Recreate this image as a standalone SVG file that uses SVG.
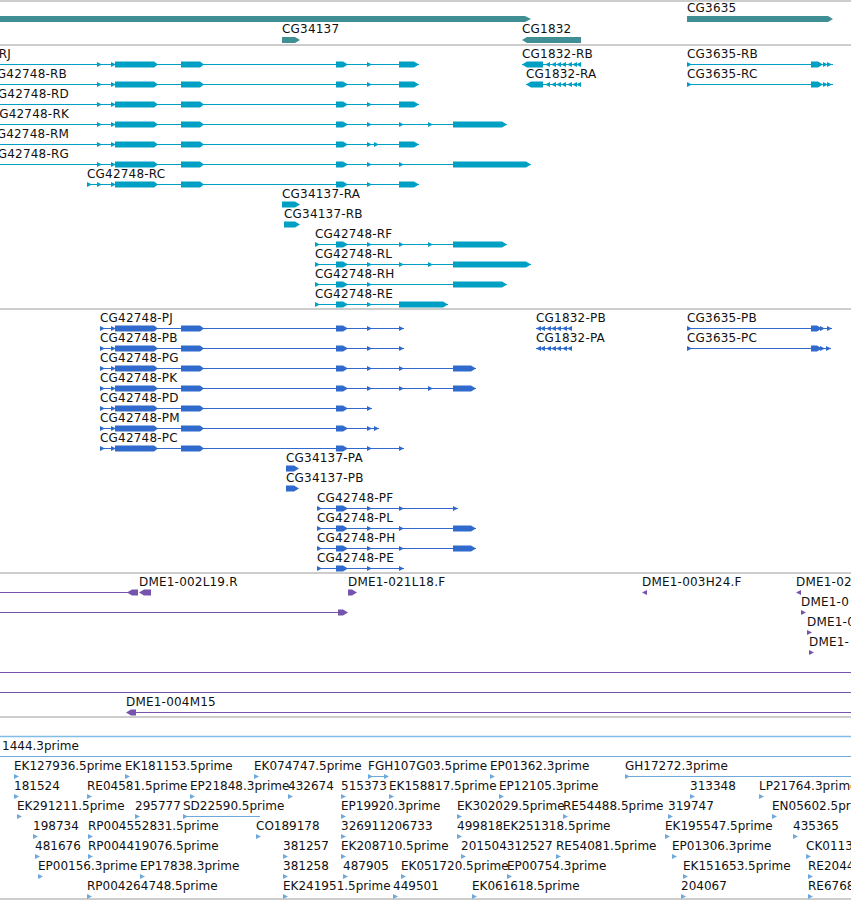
<svg xmlns="http://www.w3.org/2000/svg" xmlns:xlink="http://www.w3.org/1999/xlink" width="851" height="901" viewBox="0 0 851 901">
<style>
text{font-family:"DejaVu Sans","Liberation Sans",sans-serif;font-size:12px;fill:#111;letter-spacing:0.2px}
.es text{letter-spacing:0}
.div{stroke:#bdbdbd;stroke-width:1.5}
.gn{fill:#3f8f94}
.tx{fill:#00a0c4;stroke:none}
.tx line{stroke:#00a0c4;stroke-width:1}
.pr{fill:#2f6acc}
.pr line{stroke:#2f6acc;stroke-width:1}
.pu{fill:#7653ac}
.pu line{stroke:#7653ac;stroke-width:1}
.es{fill:#6fa9dc}
.es line{stroke:#6fa9dc;stroke-width:1}
</style>
<defs>
<path id="tr" d="M0,-2 L5,0.5 L0,3 Z"/>
<path id="tl" d="M5,-2 L0,0.5 L5,3 Z"/>
</defs>
<rect width="851" height="901" fill="#fff"/>
<g id="dividers">
<line class="div" x1="0" y1="1" x2="851" y2="1"/>
<line class="div" x1="0" y1="45" x2="851" y2="45"/>
<line class="div" x1="0" y1="309" x2="851" y2="309"/>
<line class="div" x1="0" y1="573" x2="851" y2="573"/>
<line class="div" x1="0" y1="717" x2="851" y2="717"/>
<line x1="0" y1="736.5" x2="851" y2="736.5" stroke="#7fbde6" stroke-width="1.5"/>
<line class="div" x1="0" y1="899" x2="851" y2="899"/>
</g>
<!-- genes -->
<g id="gene-CG42748" class="gn"><path d="M0,16H525L531,19L525,22H0Z"/></g>
<g id="gene-CG34137"><text x="282" y="33">CG34137</text><path class="gn" d="M282,37H295L300,40L295,43H282Z"/></g>
<g id="gene-CG1832"><text x="522" y="33">CG1832</text><path class="gn" d="M581,37H527L522,40L527,43H581Z"/></g>
<g id="gene-CG3635"><text x="687" y="12">CG3635</text><path class="gn" d="M687,16H828L833,19L828,22H687Z"/></g>
<!-- transcripts -->
<g id="CG42748-RJ" class="tx" transform="translate(0,64)"><text x="11" y="-6" text-anchor="end">CG42748-RJ</text><line x1="0" y1="0.5" x2="419" y2="0.5"/><use href="#tr" x="97"/><use href="#tr" x="111"/><path d="M115,-2.5H154L158,0.5L154,3.5H115Z"/><path d="M181,-2.5H200L204,0.5L200,3.5H181Z"/><path d="M336,-2.5H343L348,0.5L343,3.5H336Z"/><use href="#tr" x="367"/><path d="M399,-2.5H414L419,0.5L414,3.5H399Z"/></g>
<g id="CG42748-RB" class="tx" transform="translate(0,84)"><text x="67" y="-6" text-anchor="end">CG42748-RB</text><line x1="0" y1="0.5" x2="419" y2="0.5"/><use href="#tr" x="97"/><use href="#tr" x="111"/><path d="M115,-2.5H154L158,0.5L154,3.5H115Z"/><path d="M181,-2.5H200L204,0.5L200,3.5H181Z"/><path d="M336,-2.5H343L348,0.5L343,3.5H336Z"/><use href="#tr" x="367"/><path d="M399,-2.5H414L419,0.5L414,3.5H399Z"/></g>
<g id="CG42748-RD" class="tx" transform="translate(0,104)"><text x="69" y="-6" text-anchor="end">CG42748-RD</text><line x1="0" y1="0.5" x2="419" y2="0.5"/><use href="#tr" x="97"/><use href="#tr" x="111"/><path d="M115,-2.5H154L158,0.5L154,3.5H115Z"/><path d="M181,-2.5H200L204,0.5L200,3.5H181Z"/><path d="M336,-2.5H343L348,0.5L343,3.5H336Z"/><use href="#tr" x="367"/><path d="M399,-2.5H414L419,0.5L414,3.5H399Z"/></g>
<g id="CG42748-RK" class="tx" transform="translate(0,124)"><text x="69" y="-6" text-anchor="end">CG42748-RK</text><line x1="0" y1="0.5" x2="507" y2="0.5"/><use href="#tr" x="97"/><use href="#tr" x="111"/><path d="M115,-2.5H154L158,0.5L154,3.5H115Z"/><path d="M181,-2.5H200L204,0.5L200,3.5H181Z"/><path d="M336,-2.5H343L348,0.5L343,3.5H336Z"/><use href="#tr" x="367"/><use href="#tr" x="399"/><use href="#tr" x="428"/><path d="M453,-2.5H502L507,0.5L502,3.5H453Z"/></g>
<g id="CG42748-RM" class="tx" transform="translate(0,144)"><text x="69" y="-6" text-anchor="end">CG42748-RM</text><line x1="0" y1="0.5" x2="419" y2="0.5"/><use href="#tr" x="97"/><use href="#tr" x="111"/><path d="M115,-2.5H154L158,0.5L154,3.5H115Z"/><path d="M181,-2.5H200L204,0.5L200,3.5H181Z"/><path d="M336,-2.5H343L348,0.5L343,3.5H336Z"/><use href="#tr" x="367"/><use href="#tr" x="374"/><path d="M399,-2.5H414L419,0.5L414,3.5H399Z"/></g>
<g id="CG42748-RG" class="tx" transform="translate(0,164)"><text x="69" y="-6" text-anchor="end">CG42748-RG</text><line x1="0" y1="0.5" x2="531" y2="0.5"/><use href="#tr" x="97"/><use href="#tr" x="111"/><path d="M115,-2.5H154L158,0.5L154,3.5H115Z"/><path d="M181,-2.5H200L204,0.5L200,3.5H181Z"/><path d="M336,-2.5H343L348,0.5L343,3.5H336Z"/><use href="#tr" x="367"/><use href="#tr" x="399"/><path d="M453,-2.5H526L531,0.5L526,3.5H453Z"/></g>
<g id="CG42748-RC" class="tx" transform="translate(0,184)"><text x="87" y="-6">CG42748-RC</text><line x1="87" y1="0.5" x2="419" y2="0.5"/><use href="#tr" x="87"/><use href="#tr" x="97"/><use href="#tr" x="111"/><path d="M115,-2.5H154L158,0.5L154,3.5H115Z"/><path d="M181,-2.5H200L204,0.5L200,3.5H181Z"/><path d="M336,-2.5H343L348,0.5L343,3.5H336Z"/><use href="#tr" x="367"/><path d="M399,-2.5H414L419,0.5L414,3.5H399Z"/></g>
<g id="CG34137-RA" class="tx" transform="translate(0,204)"><text x="282" y="-6">CG34137-RA</text><path d="M282,-2.5H295L300,0.5L295,3.5H282Z"/></g>
<g id="CG34137-RB" class="tx" transform="translate(0,224)"><text x="284" y="-6">CG34137-RB</text><path d="M284,-2.5H295L300,0.5L295,3.5H284Z"/></g>
<g id="CG42748-RF" class="tx" transform="translate(0,244)"><text x="315" y="-6">CG42748-RF</text><line x1="315" y1="0.5" x2="507" y2="0.5"/><use href="#tr" x="315"/><path d="M336,-2.5H343L348,0.5L343,3.5H336Z"/><use href="#tr" x="367"/><use href="#tr" x="399"/><use href="#tr" x="428"/><path d="M453,-2.5H502L507,0.5L502,3.5H453Z"/></g>
<g id="CG42748-RL" class="tx" transform="translate(0,264)"><text x="315" y="-6">CG42748-RL</text><line x1="315" y1="0.5" x2="531" y2="0.5"/><use href="#tr" x="315"/><path d="M336,-2.5H343L348,0.5L343,3.5H336Z"/><use href="#tr" x="367"/><use href="#tr" x="399"/><use href="#tr" x="428"/><path d="M453,-2.5H526L531,0.5L526,3.5H453Z"/></g>
<g id="CG42748-RH" class="tx" transform="translate(0,284)"><text x="315" y="-6">CG42748-RH</text><line x1="315" y1="0.5" x2="507" y2="0.5"/><use href="#tr" x="315"/><path d="M336,-2.5H343L348,0.5L343,3.5H336Z"/><use href="#tr" x="367"/><path d="M453,-2.5H502L507,0.5L502,3.5H453Z"/></g>
<g id="CG42748-RE" class="tx" transform="translate(0,304)"><text x="315" y="-6">CG42748-RE</text><line x1="315" y1="0.5" x2="448" y2="0.5"/><use href="#tr" x="315"/><path d="M336,-2.5H343L348,0.5L343,3.5H336Z"/><use href="#tr" x="367"/><path d="M399,-2.5H443L448,0.5L443,3.5H399Z"/></g>
<g id="CG1832-RB" class="tx" transform="translate(0,64)"><text x="522" y="-6">CG1832-RB</text><line x1="522" y1="0.5" x2="581" y2="0.5"/><path d="M543,-2.5H527L522,0.5L527,3.5H543Z"/><use href="#tl" x="545"/><use href="#tl" x="551"/><use href="#tl" x="556"/><use href="#tl" x="561"/><use href="#tl" x="567"/><use href="#tl" x="572"/><use href="#tl" x="576"/></g>
<g id="CG1832-RA" class="tx" transform="translate(0,84)"><text x="526" y="-6">CG1832-RA</text><line x1="526" y1="0.5" x2="581" y2="0.5"/><path d="M543,-2.5H531L526,0.5L531,3.5H543Z"/><use href="#tl" x="545"/><use href="#tl" x="551"/><use href="#tl" x="556"/><use href="#tl" x="561"/><use href="#tl" x="567"/><use href="#tl" x="572"/><use href="#tl" x="576"/></g>
<g id="CG3635-RB" class="tx" transform="translate(0,64)"><text x="687" y="-6">CG3635-RB</text><line x1="687" y1="0.5" x2="833" y2="0.5"/><use href="#tr" x="687"/><path d="M811,-2.5H818L823,0.5L818,3.5H811Z"/><use href="#tr" x="827"/><use href="#tr" x="823"/></g>
<g id="CG3635-RC" class="tx" transform="translate(0,84)"><text x="687" y="-6">CG3635-RC</text><line x1="687" y1="0.5" x2="833" y2="0.5"/><use href="#tr" x="687"/><path d="M811,-2.5H818L823,0.5L818,3.5H811Z"/><use href="#tr" x="827"/><use href="#tr" x="823"/></g>
<!-- proteins -->
<g id="CG42748-PJ" class="pr" transform="translate(0,328)"><text x="100" y="-6">CG42748-PJ</text><line x1="100" y1="0.5" x2="404" y2="0.5"/><use href="#tr" x="100"/><use href="#tr" x="111"/><path d="M115,-2.5H154L158,0.5L154,3.5H115Z"/><path d="M181,-2.5H200L204,0.5L200,3.5H181Z"/><path d="M336,-2.5H343L348,0.5L343,3.5H336Z"/><use href="#tr" x="367"/><use href="#tr" x="399"/></g>
<g id="CG42748-PB" class="pr" transform="translate(0,348)"><text x="100" y="-6">CG42748-PB</text><line x1="100" y1="0.5" x2="404" y2="0.5"/><use href="#tr" x="100"/><use href="#tr" x="111"/><path d="M115,-2.5H154L158,0.5L154,3.5H115Z"/><path d="M181,-2.5H200L204,0.5L200,3.5H181Z"/><path d="M336,-2.5H343L348,0.5L343,3.5H336Z"/><use href="#tr" x="367"/><use href="#tr" x="399"/></g>
<g id="CG42748-PG" class="pr" transform="translate(0,368)"><text x="100" y="-6">CG42748-PG</text><line x1="100" y1="0.5" x2="476" y2="0.5"/><use href="#tr" x="100"/><use href="#tr" x="111"/><path d="M115,-2.5H154L158,0.5L154,3.5H115Z"/><path d="M181,-2.5H200L204,0.5L200,3.5H181Z"/><path d="M336,-2.5H343L348,0.5L343,3.5H336Z"/><use href="#tr" x="367"/><use href="#tr" x="399"/><path d="M453,-2.5H471L476,0.5L471,3.5H453Z"/></g>
<g id="CG42748-PK" class="pr" transform="translate(0,388)"><text x="100" y="-6">CG42748-PK</text><line x1="100" y1="0.5" x2="476" y2="0.5"/><use href="#tr" x="100"/><use href="#tr" x="111"/><path d="M115,-2.5H154L158,0.5L154,3.5H115Z"/><path d="M181,-2.5H200L204,0.5L200,3.5H181Z"/><path d="M336,-2.5H343L348,0.5L343,3.5H336Z"/><use href="#tr" x="367"/><use href="#tr" x="399"/><use href="#tr" x="428"/><path d="M453,-2.5H471L476,0.5L471,3.5H453Z"/></g>
<g id="CG42748-PD" class="pr" transform="translate(0,408)"><text x="100" y="-6">CG42748-PD</text><line x1="100" y1="0.5" x2="372" y2="0.5"/><use href="#tr" x="100"/><use href="#tr" x="111"/><path d="M115,-2.5H154L158,0.5L154,3.5H115Z"/><path d="M181,-2.5H200L204,0.5L200,3.5H181Z"/><path d="M336,-2.5H343L348,0.5L343,3.5H336Z"/><use href="#tr" x="367"/></g>
<g id="CG42748-PM" class="pr" transform="translate(0,428)"><text x="100" y="-6">CG42748-PM</text><line x1="100" y1="0.5" x2="379" y2="0.5"/><use href="#tr" x="100"/><use href="#tr" x="111"/><path d="M115,-2.5H154L158,0.5L154,3.5H115Z"/><path d="M181,-2.5H200L204,0.5L200,3.5H181Z"/><path d="M336,-2.5H343L348,0.5L343,3.5H336Z"/><use href="#tr" x="367"/><use href="#tr" x="374"/></g>
<g id="CG42748-PC" class="pr" transform="translate(0,448)"><text x="100" y="-6">CG42748-PC</text><line x1="100" y1="0.5" x2="404" y2="0.5"/><use href="#tr" x="100"/><use href="#tr" x="111"/><path d="M115,-2.5H154L158,0.5L154,3.5H115Z"/><path d="M181,-2.5H200L204,0.5L200,3.5H181Z"/><path d="M336,-2.5H343L348,0.5L343,3.5H336Z"/><use href="#tr" x="367"/><use href="#tr" x="399"/></g>
<g id="CG34137-PA" class="pr" transform="translate(0,468)"><text x="286" y="-6">CG34137-PA</text><path d="M286,-2.5H294L299,0.5L294,3.5H286Z"/></g>
<g id="CG34137-PB" class="pr" transform="translate(0,488)"><text x="286" y="-6">CG34137-PB</text><path d="M286,-2.5H294L299,0.5L294,3.5H286Z"/></g>
<g id="CG42748-PF" class="pr" transform="translate(0,508)"><text x="317" y="-6">CG42748-PF</text><line x1="317" y1="0.5" x2="458" y2="0.5"/><use href="#tr" x="317"/><path d="M336,-2.5H343L348,0.5L343,3.5H336Z"/><use href="#tr" x="367"/><use href="#tr" x="399"/><use href="#tr" x="453"/></g>
<g id="CG42748-PL" class="pr" transform="translate(0,528)"><text x="317" y="-6">CG42748-PL</text><line x1="317" y1="0.5" x2="476" y2="0.5"/><use href="#tr" x="317"/><path d="M336,-2.5H343L348,0.5L343,3.5H336Z"/><use href="#tr" x="367"/><use href="#tr" x="399"/><path d="M453,-2.5H471L476,0.5L471,3.5H453Z"/></g>
<g id="CG42748-PH" class="pr" transform="translate(0,548)"><text x="317" y="-6">CG42748-PH</text><line x1="317" y1="0.5" x2="476" y2="0.5"/><use href="#tr" x="317"/><path d="M336,-2.5H343L348,0.5L343,3.5H336Z"/><use href="#tr" x="367"/><use href="#tr" x="399"/><path d="M453,-2.5H471L476,0.5L471,3.5H453Z"/></g>
<g id="CG42748-PE" class="pr" transform="translate(0,568)"><text x="317" y="-6">CG42748-PE</text><line x1="317" y1="0.5" x2="404" y2="0.5"/><use href="#tr" x="317"/><path d="M336,-2.5H343L348,0.5L343,3.5H336Z"/><use href="#tr" x="367"/><use href="#tr" x="399"/></g>
<g id="CG1832-PB" class="pr" transform="translate(0,328)"><text x="536" y="-6">CG1832-PB</text><line x1="536" y1="0.5" x2="572" y2="0.5"/><use href="#tl" x="536"/><use href="#tl" x="540"/><use href="#tl" x="546"/><use href="#tl" x="551"/><use href="#tl" x="556"/><use href="#tl" x="562"/><use href="#tl" x="567"/></g>
<g id="CG1832-PA" class="pr" transform="translate(0,348)"><text x="536" y="-6">CG1832-PA</text><line x1="536" y1="0.5" x2="572" y2="0.5"/><use href="#tl" x="536"/><use href="#tl" x="540"/><use href="#tl" x="546"/><use href="#tl" x="551"/><use href="#tl" x="556"/><use href="#tl" x="562"/><use href="#tl" x="567"/></g>
<g id="CG3635-PB" class="pr" transform="translate(0,328)"><text x="687" y="-6">CG3635-PB</text><line x1="687" y1="0.5" x2="832" y2="0.5"/><use href="#tr" x="687"/><path d="M811,-2.5H817L822,0.5L817,3.5H811Z"/><use href="#tr" x="820"/><use href="#tr" x="827"/></g>
<g id="CG3635-PC" class="pr" transform="translate(0,348)"><text x="687" y="-6">CG3635-PC</text><line x1="687" y1="0.5" x2="831" y2="0.5"/><use href="#tr" x="687"/><path d="M811,-2.5H817L822,0.5L817,3.5H811Z"/><use href="#tr" x="820"/><use href="#tr" x="826"/></g>
<!-- clone ends -->
<g id="DME1-002L19.R" class="pu" transform="translate(0,592)"><text x="139" y="-6">DME1-002L19.R</text><line x1="0" y1="0.5" x2="130" y2="0.5"/><path d="M138,-2.5H132L127,0.5L132,3.5H138Z"/><path d="M151,-2.5H144L139,0.5L144,3.5H151Z"/></g>
<g id="clone-line-2" class="pu" transform="translate(0,612)"><line x1="0" y1="0.5" x2="340" y2="0.5"/><path d="M338,-2.5H343L348,0.5L343,3.5H338Z"/></g>
<g id="DME1-021L18.F" class="pu" transform="translate(0,592)"><text x="348" y="-6">DME1-021L18.F</text><path d="M348,-2.5H352L357,0.5L352,3.5H348Z"/></g>
<g id="DME1-003H24.F" class="pu" transform="translate(0,592)"><text x="642" y="-6">DME1-003H24.F</text><use href="#tl" x="642"/></g>
<g id="DME1-02" class="pu" transform="translate(0,592)"><text x="796" y="-6">DME1-02</text><use href="#tl" x="796"/></g>
<g id="DME1-0a" class="pu" transform="translate(0,612)"><text x="801" y="-6">DME1-0</text><use href="#tr" x="801"/></g>
<g id="DME1-0b" class="pu" transform="translate(0,632)"><text x="807" y="-6">DME1-0</text><use href="#tr" x="807"/></g>
<g id="DME1-c" class="pu" transform="translate(0,652)"><text x="809" y="-6">DME1-</text><use href="#tr" x="809"/></g>
<g id="clone-line-672" class="pu"><line x1="0" y1="672.5" x2="851" y2="672.5"/></g>
<g id="clone-line-692" class="pu"><line x1="0" y1="692.5" x2="851" y2="692.5"/></g>
<g id="DME1-004M15" class="pu" transform="translate(0,712)"><text x="126" y="-6">DME1-004M15</text><line x1="134" y1="0.5" x2="851" y2="0.5"/><path d="M136,-2.5H131L126,0.5L131,3.5H136Z"/></g>
<!-- ESTs -->
<g id="ests" class="es">
<g transform="translate(0,756)"><text x="2" y="-6">1444.3prime</text><line x1="0" y1="0.5" x2="851" y2="0.5"/></g>
<g transform="translate(0,776)"><text x="14" y="-6">EK127936.5prime</text><use href="#tr" x="14"/><text x="125" y="-6">EK181153.5prime</text><use href="#tr" x="125"/><text x="254" y="-6">EK074747.5prime</text><use href="#tr" x="254"/><text x="368" y="-6">FGH107G03.5prime</text><line x1="368" y1="0.5" x2="388" y2="0.5"/><use href="#tr" x="368"/><use href="#tr" x="384"/><text x="490" y="-6">EP01362.3prime</text><use href="#tr" x="490"/><text x="625" y="-6">GH17272.3prime</text><line x1="625" y1="0.5" x2="851" y2="0.5"/><use href="#tr" x="625"/></g>
<g transform="translate(0,796)"><text x="14" y="-6">181524</text><use href="#tr" x="14"/><text x="87" y="-6">RE04581.5prime</text><use href="#tr" x="87"/><text x="190" y="-6">EP21848.3prime</text><use href="#tr" x="190"/><text x="288" y="-6">432674</text><use href="#tr" x="288"/><text x="341" y="-6">515373</text><use href="#tr" x="341"/><text x="389" y="-6">EK158817.5prime</text><use href="#tr" x="389"/><text x="499" y="-6">EP12105.3prime</text><use href="#tr" x="499"/><text x="690" y="-6">313348</text><use href="#tr" x="690"/><text x="759" y="-6">LP21764.3prime</text><use href="#tr" x="759"/></g>
<g transform="translate(0,816)"><text x="17" y="-6">EK291211.5prime</text><use href="#tr" x="17"/><text x="135" y="-6">295777</text><use href="#tr" x="135"/><text x="183" y="-6">SD22590.5prime</text><line x1="183" y1="0.5" x2="260" y2="0.5"/><use href="#tr" x="183"/><text x="341" y="-6">EP19920.3prime</text><use href="#tr" x="341"/><text x="457" y="-6">EK302029.5prime</text><use href="#tr" x="457"/><text x="563" y="-6">RE54488.5prime</text><use href="#tr" x="563"/><text x="668" y="-6">319747</text><use href="#tr" x="668"/><text x="772" y="-6">EN05602.5prime</text><use href="#tr" x="772"/></g>
<g transform="translate(0,836)"><text x="33" y="-6">198734</text><use href="#tr" x="33"/><text x="88" y="-6">RP004552831.5prime</text><use href="#tr" x="88"/><text x="256" y="-6">CO189178</text><use href="#tr" x="256"/><text x="341" y="-6">326911206733</text><use href="#tr" x="341"/><text x="457" y="-6">499818EK251318.5prime</text><use href="#tr" x="457"/><text x="665" y="-6">EK195547.5prime</text><use href="#tr" x="665"/><text x="793" y="-6">435365</text><use href="#tr" x="793"/></g>
<g transform="translate(0,856)"><text x="35" y="-6">481676</text><use href="#tr" x="35"/><text x="88" y="-6">RP004419076.5prime</text><use href="#tr" x="88"/><text x="283" y="-6">381257</text><use href="#tr" x="283"/><text x="341" y="-6">EK208710.5prime</text><use href="#tr" x="341"/><text x="461" y="-6">201504312527</text><use href="#tr" x="461"/><text x="556" y="-6">RE54081.5prime</text><use href="#tr" x="556"/><text x="672" y="-6">EP01306.3prime</text><use href="#tr" x="672"/><text x="806" y="-6">CK0113</text><use href="#tr" x="806"/></g>
<g transform="translate(0,876)"><text x="38" y="-6">EP00156.3prime</text><use href="#tr" x="38"/><text x="140" y="-6">EP17838.3prime</text><use href="#tr" x="140"/><text x="283" y="-6">381258</text><use href="#tr" x="283"/><text x="343" y="-6">487905</text><use href="#tr" x="343"/><text x="401" y="-6">EK051720.5prime</text><use href="#tr" x="401"/><text x="507" y="-6">EP00754.3prime</text><use href="#tr" x="507"/><text x="683" y="-6">EK151653.5prime</text><use href="#tr" x="683"/><text x="808" y="-6">RE2044</text><use href="#tr" x="808"/></g>
<g transform="translate(0,896)"><text x="87" y="-6">RP004264748.5prime</text><use href="#tr" x="87"/><text x="283" y="-6">EK241951.5prime</text><use href="#tr" x="283"/><text x="393" y="-6">449501</text><use href="#tr" x="393"/><text x="472" y="-6">EK061618.5prime</text><use href="#tr" x="472"/><text x="681" y="-6">204067</text><use href="#tr" x="681"/><text x="808" y="-6">RE6768</text><use href="#tr" x="808"/></g>
</g>
</svg>
